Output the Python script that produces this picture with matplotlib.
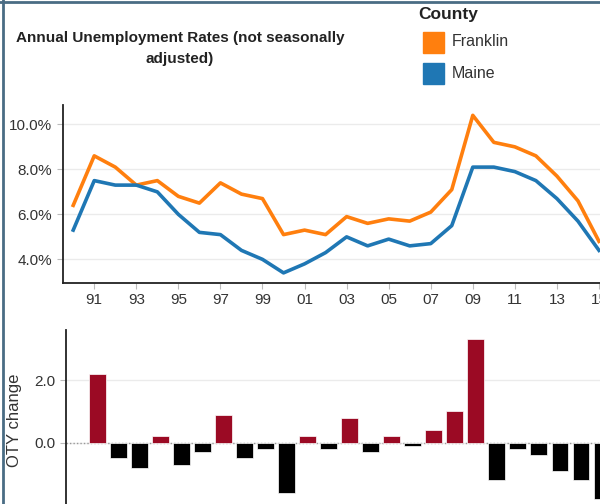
import matplotlib
matplotlib.use("Agg")
import matplotlib.pyplot as plt
from matplotlib.patches import Rectangle
from matplotlib.lines import Line2D

plt.rcParams["font.family"] = ["Liberation Sans", "DejaVu Sans"]

years = list(range(1990, 2016))
franklin = [6.4, 8.6, 8.1, 7.3, 7.5, 6.8, 6.5, 7.4, 6.9, 6.7, 5.1, 5.3, 5.1,
            5.9, 5.6, 5.8, 5.7, 6.1, 7.1, 10.4, 9.2, 9.0, 8.6, 7.7, 6.6, 4.8]
maine = [5.3, 7.5, 7.3, 7.3, 7.0, 6.0, 5.2, 5.1, 4.4, 4.0, 3.4, 3.8, 4.3,
         5.0, 4.6, 4.9, 4.6, 4.7, 5.5, 8.1, 8.1, 7.9, 7.5, 6.7, 5.7, 4.4]
bar_years = list(range(1991, 2016))
oty_change = [2.2, -0.5, -0.8, 0.2, -0.7, -0.3, 0.9, -0.5, -0.2, -1.6, 0.2, -0.2,
              0.8, -0.3, 0.2, -0.1, 0.4, 1.0, 3.3, -1.2, -0.2, -0.4, -0.9, -1.2, -1.8]
xtick_years = list(range(1991, 2016, 2))
xtick_labels = [f"{y % 100:02d}" for y in xtick_years]

ORANGE, BLUE, RED = "#ff7f0e", "#1f77b4", "#9b0a24"
GRID, TXT = "#ebebeb", "#333333"

W, H = 600, 504
fig = plt.figure(figsize=(6, 5.04), dpi=100)


def px_axes(left, top, right, bottom):
    return fig.add_axes([left / W, 1 - bottom / H, (right - left) / W, (bottom - top) / H])


def style(ax):
    for s in ("top", "right"):
        ax.spines[s].set_visible(False)
    ax.spines["left"].set_color("#222222")
    ax.spines["left"].set_linewidth(1.3)
    ax.tick_params(axis="both", colors="#bbbbbb", labelcolor=TXT, labelsize=11,
                   length=4, width=0.8)
    ax.set_axisbelow(True)


# top: rates
ax = px_axes(62.7, 105, 609.5, 283)
style(ax)
ax.spines["bottom"].set_color("#222222"); ax.spines["bottom"].set_linewidth(1.3)
ax.plot(years, franklin, color=ORANGE, lw=2.6, solid_joinstyle="round")
ax.plot(years, maine, color=BLUE, lw=2.6, solid_joinstyle="round")
ax.set_xlim(1989.5, 2015.5)
ax.set_ylim(2.95, 10.86)
ax.set_yticks([4, 6, 8, 10])
ax.set_yticklabels([f"{v:.1f}%" for v in [4, 6, 8, 10]])
ax.set_xticks(xtick_years)
ax.set_xticklabels(xtick_labels)
ax.yaxis.grid(True, color=GRID, lw=1)
ax.tick_params(axis="x", pad=3)

# bottom: over-the-year change
bx = px_axes(65.7, 330, 612.5, 511.6)
style(bx)
bx.spines["bottom"].set_visible(False)
bx.bar(bar_years, oty_change, width=0.8,
       color=[RED if v > 0 else "black" for v in oty_change],
       edgecolor="white", linewidth=0.5, zorder=2)
bx.axhline(0, color="#999999", lw=1, ls=(0, (1, 1.5)), zorder=1)
bx.set_xlim(1989.5, 2015.5)
bx.set_ylim(-2.2, 3.6)
bx.set_yticks([0, 2])
bx.set_yticklabels(["0.0", "2.0"])
bx.set_xticks([])
bx.yaxis.grid(True, color=GRID, lw=1)
bx.set_ylabel("OTY change", fontsize=12, color=TXT, labelpad=9)

# title
fig.text(180 / W, 1 - 38 / H, "Annual Unemployment Rates (not seasonally",
         ha="center", va="center", fontsize=11, fontweight="bold", color="#222222")
fig.text(180 / W, 1 - 59 / H, "adjusted)",
         ha="center", va="center", fontsize=11, fontweight="bold", color="#222222")

# legend
fig.text(418 / W, 1 - 15 / H, "County", ha="left", va="center",
         fontsize=12.5, fontweight="bold", color="#222222")
for (lab, col, yc) in [("Franklin", ORANGE, 42), ("Maine", BLUE, 73)]:
    fig.patches.append(Rectangle((423 / W, 1 - (yc + 10.5) / H), 21 / W, 21 / H,
                                 transform=fig.transFigure, color=col))
    fig.text(452 / W, 1 - yc / H, lab, ha="left", va="center", fontsize=11.5, color=TXT)

# frame lines at top and left
fig.lines.append(Line2D([0, 1], [1 - 2 / H, 1 - 2 / H], transform=fig.transFigure,
                        color="#4a6c84", lw=2))
fig.lines.append(Line2D([3 / W, 3 / W], [0, 1], transform=fig.transFigure,
                        color="#4a6c84", lw=2))

fig.savefig("out.png", dpi=100)
